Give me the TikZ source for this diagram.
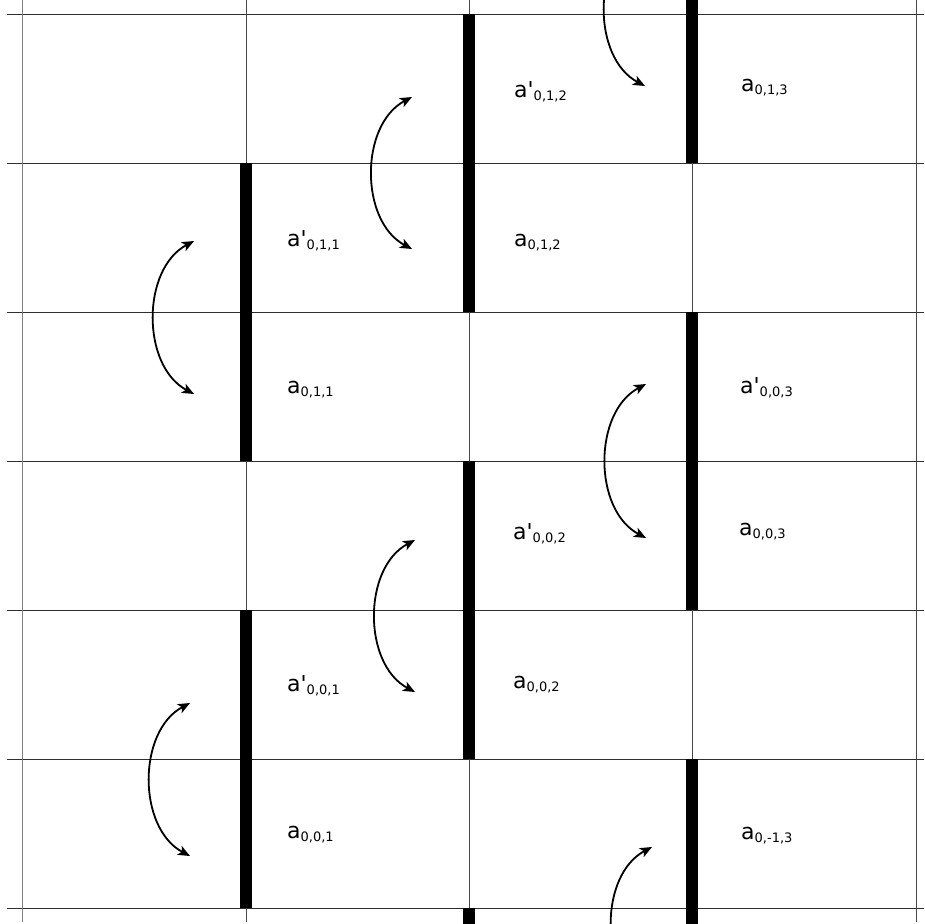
\documentclass[tikz,border=0pt]{standalone}
\usepackage{fontspec}
\setmainfont{DejaVu Sans}[Ligatures=TeXOff]
\usetikzlibrary{arrows.meta}
\newcommand{\lsub}[1]{\raisebox{-3.5pt}{\fontsize{13}{15}\selectfont #1}}
\begin{document}
\begin{tikzpicture}[x=1pt,y=-1pt,
  hline/.style={draw=black!82, line width=1.1pt},
  vline/.style={draw=black!72, line width=1pt},
  barfill/.style={fill=black},
  lbl/.style={anchor=base west, inner sep=0pt, font=\fontsize{22}{26}\selectfont},
  xchg/.style={line width=1.8pt, {Stealth[length=12pt,width=10pt,inset=3pt]}-{Stealth[length=12pt,width=10pt,inset=3pt]}, bend right=62}]
\useasboundingbox (0,0) rectangle (924,924);
\fill[white] (0,0) rectangle (924,924);
\begin{scope}
\clip (0,0) rectangle (924,924);
% horizontal grid lines
\foreach \yy in {14.5,163.5,312.5,461.5,610.5,759.5,908.5}
  \draw[hline] (7,\yy) -- (924,\yy);
% vertical grid lines
\draw[vline, draw=black!50] (22,0) -- (22,922);
\foreach \xx in {246,469,692,916}
  \draw[vline] (\xx,0) -- (\xx,922);
% thick bars
\fill[barfill] (240,163) rectangle (252,461);
\fill[barfill] (240,610) rectangle (252,908);
\fill[barfill] (463,14) rectangle (475,312);
\fill[barfill] (463,461) rectangle (475,759);
\fill[barfill] (463,908) rectangle (475,924);
\fill[barfill] (686,0) rectangle (698,163);
\fill[barfill] (686,312) rectangle (698,610);
\fill[barfill] (686,759) rectangle (698,924);
% arrow end points
\coordinate (s1a) at (194,241); \coordinate (s1b) at (194,394);
\coordinate (s2a) at (190,703); \coordinate (s2b) at (190,856);
\coordinate (s3a) at (412,97);  \coordinate (s3b) at (412,249);
\coordinate (s4a) at (415,540); \coordinate (s4b) at (415,692);
\coordinate (s5a) at (646,384); \coordinate (s5b) at (646,538);
\coordinate (s6a) at (645,-67); \coordinate (s6b) at (645,86);
\coordinate (s7a) at (652,847); \coordinate (s7b) at (652,1000);
\draw[xchg] (s1a) to (s1b);
\draw[xchg] (s2a) to (s2b);
\draw[xchg] (s3a) to (s3b);
\draw[xchg] (s4a) to (s4b);
\draw[xchg] (s5a) to (s5b);
\draw[xchg] (s6a) to (s6b);
\draw[xchg] (s7a) to (s7b);
\end{scope}
% labels
\node[lbl] (l012p) at (514,97)  {a'\lsub{0,1,2}};
\node[lbl] (l013)  at (741,91)  {a\lsub{0,1,3}};
\node[lbl] (l011p) at (287,246) {a'\lsub{0,1,1}};
\node[lbl] (l012)  at (514,246) {a\lsub{0,1,2}};
\node[lbl] (l011)  at (287,393) {a\lsub{0,1,1}};
\node[lbl] (l003p) at (740,393) {a'\lsub{0,0,3}};
\node[lbl] (l002p) at (513,539) {a'\lsub{0,0,2}};
\node[lbl] (l003)  at (739,535) {a\lsub{0,0,3}};
\node[lbl] (l001p) at (287,691) {a'\lsub{0,0,1}};
\node[lbl] (l002)  at (513,688) {a\lsub{0,0,2}};
\node[lbl] (l001)  at (287,838) {a\lsub{0,0,1}};
\node[lbl] (l0m13) at (741,839) {a\lsub{0,-1,3}};
\end{tikzpicture}
\end{document}
